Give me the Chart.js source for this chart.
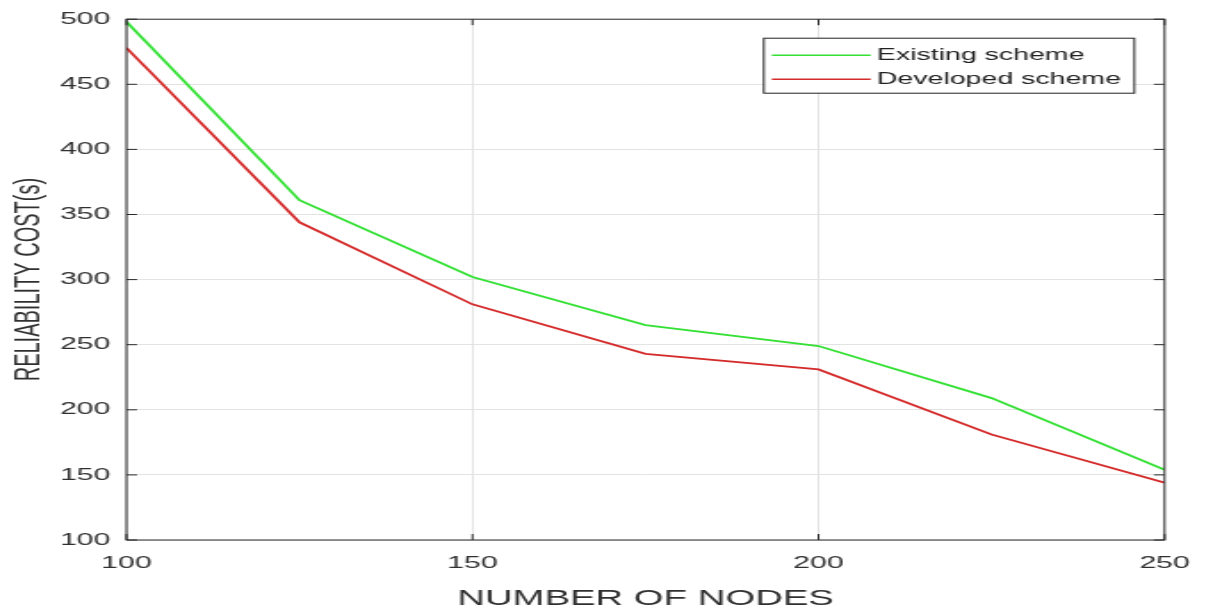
<!DOCTYPE html>
<html>
<head>
<meta charset="utf-8">
<script src="https://cdn.jsdelivr.net/npm/chart.js@4"></script>
<style>
html, body { margin: 0; padding: 0; background: #fff; overflow: hidden; }
/* the original figure is stretched sideways, so the canvas is drawn narrow and widened by CSS */
#chart { display: block; width: 1213px !important; height: 606px !important; }
</style>
</head>
<body>
<canvas id="chart" width="681" height="606"></canvas>
<script>
// data
const nodes = [100, 125, 150, 175, 200, 225, 250];
const existingScheme = [498, 361, 302, 265, 249, 209, 154];
const developedScheme = [478, 344, 281, 243, 231, 181, 144];
const xTickValues = [100, 150, 200, 250];
const yTickValues = [100, 150, 200, 250, 300, 350, 400, 450, 500];

const axisColor = '#2b2b2b';
const gridColor = '#e3e3e3';
const textColor = '#303030';
const fontFamily = '"Liberation Sans", Arial, sans-serif';

// MATLAB style box with inward ticks on all four sides
const matlabBox = {
    id: 'matlabBox',
    afterDatasetsDraw(chart) {
        const { ctx, chartArea: a, scales: { x, y } } = chart;
        const len = 6;
        ctx.save();
        ctx.strokeStyle = axisColor;
        ctx.lineWidth = 1;
        ctx.strokeRect(a.left, a.top, a.right - a.left, a.bottom - a.top);
        ctx.beginPath();
        xTickValues.forEach(v => {
            const px = x.getPixelForValue(v);
            ctx.moveTo(px, a.bottom); ctx.lineTo(px, a.bottom - len);
            ctx.moveTo(px, a.top); ctx.lineTo(px, a.top + len);
        });
        yTickValues.forEach(v => {
            const py = y.getPixelForValue(v);
            ctx.moveTo(a.left, py); ctx.lineTo(a.left + len, py);
            ctx.moveTo(a.right, py); ctx.lineTo(a.right - len, py);
        });
        ctx.stroke();
        ctx.restore();
    }
};

// boxed legend in the top right corner of the plot
const boxLegend = {
    id: 'boxLegend',
    afterDraw(chart) {
        const { ctx, chartArea: a } = chart;
        const w = 208, h = 55;
        const left = a.right - 17 - w;
        const top = a.top + 19;
        ctx.save();
        ctx.fillStyle = '#fff';
        ctx.fillRect(left, top, w, h);
        ctx.strokeStyle = '#222';
        ctx.lineWidth = 1;
        ctx.strokeRect(left, top, w, h);
        ctx.font = '16px ' + fontFamily;
        ctx.textBaseline = 'middle';
        chart.data.datasets.forEach((ds, i) => {
            const cy = top + 17 + i * 24;
            ctx.strokeStyle = ds.borderColor;
            ctx.lineWidth = 1.5;
            ctx.beginPath();
            ctx.moveTo(left + 4.5, cy);
            ctx.lineTo(left + 60, cy);
            ctx.stroke();
            ctx.fillStyle = '#222';
            ctx.fillText(ds.label, left + 63.5, cy);
        });
        ctx.restore();
    }
};

const ctx = document.getElementById('chart').getContext('2d');
const chart = new Chart(ctx, {
    type: 'line',
    data: {
        datasets: [{
            label: 'Existing scheme',
            data: nodes.map((n, i) => ({ x: n, y: existingScheme[i] })),
            borderColor: '#33e033',
            borderWidth: 1.8,
            pointRadius: 0,
            fill: false
        }, {
            label: 'Developed scheme',
            data: nodes.map((n, i) => ({ x: n, y: developedScheme[i] })),
            borderColor: '#d42a2a',
            borderWidth: 1.8,
            pointRadius: 0,
            fill: false
        }]
    },
    options: {
        responsive: false,
        animation: false,
        layout: { padding: { top: 19, right: 24, left: 0, bottom: 0 } },
        plugins: {
            legend: { display: false },
            tooltip: { enabled: false }
        },
        scales: {
            x: {
                type: 'linear',
                min: 100,
                max: 250,
                afterBuildTicks(scale) { scale.ticks = xTickValues.map(v => ({ value: v })); },
                afterFit(scale) { scale.height = 66; },
                grid: { color: gridColor, drawTicks: false },
                border: { display: false },
                ticks: { padding: 13, color: textColor, font: { family: fontFamily, size: 17 } },
                title: {
                    display: true,
                    text: 'NUMBER OF NODES',
                    color: textColor,
                    font: { family: fontFamily, size: 21.5 },
                    padding: { top: 0, bottom: -6 }
                }
            },
            y: {
                min: 100,
                max: 500,
                afterBuildTicks(scale) { scale.ticks = yTickValues.map(v => ({ value: v })); },
                afterFit(scale) { scale.width = 71; },
                grid: { color: gridColor, drawTicks: false },
                border: { display: false },
                ticks: { padding: 9, color: textColor, font: { family: fontFamily, size: 17 } },
                title: {
                    display: true,
                    text: 'RELIABILITY COST(s)',
                    color: textColor,
                    font: { family: fontFamily, size: 20 },
                    padding: { top: 4, bottom: 0 }
                }
            }
        }
    },
    plugins: [matlabBox, boxLegend]
});
</script>
</body>
</html>
